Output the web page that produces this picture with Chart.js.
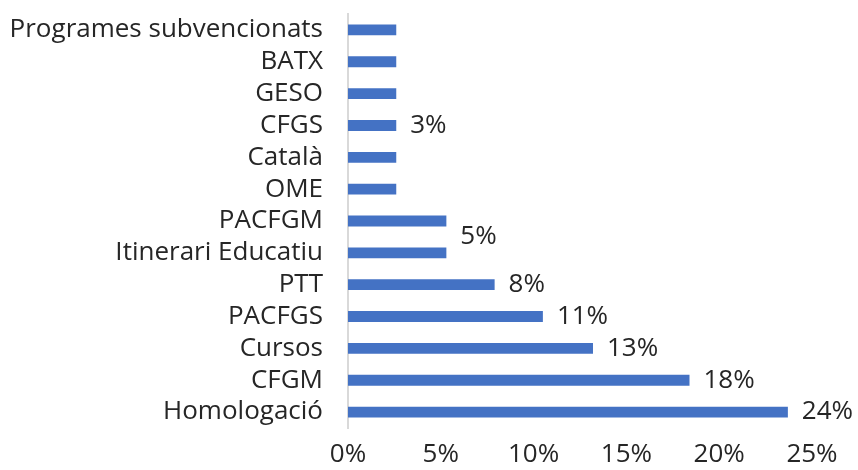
<!DOCTYPE html>
<html>
<head>
<meta charset="utf-8">
<script src="https://cdn.jsdelivr.net/npm/chart.js@4.4.0/dist/chart.umd.min.js"></script>
<style>
html,body{margin:0;padding:0;background:#fff;}
#wrap{width:858px;height:470px;position:relative;}
</style>
</head>
<body>
<div id="wrap"><canvas id="c" width="858" height="470"></canvas></div>
<script>
const categories = ['Programes subvencionats','BATX','GESO','CFGS','Català','OME','PACFGM','Itinerari Educatiu','PTT','PACFGS','Cursos','CFGM','Homologació'];
const values = [2.6, 2.6, 2.6, 2.6, 2.6, 2.6, 5.3, 5.3, 7.9, 10.5, 13.2, 18.4, 23.7];
const valueLabels = ['', '', '', '3%', '', '', '', '5%', '8%', '11%', '13%', '18%', '24%'];
const xTicks = [0, 5, 10, 15, 20, 25];

const FONT = "'Open Sans', sans-serif";
const FSIZE = 26;
const TEXT = '#262626';

const labelPlugin = {
  id: 'valueLabels',
  afterDatasetsDraw(chart, args, opts) {
    const ctx = chart.ctx;
    const meta = chart.getDatasetMeta(0);
    ctx.save();
    ctx.font = FSIZE + 'px ' + FONT;
    ctx.fillStyle = TEXT;
    ctx.textAlign = 'left';
    ctx.textBaseline = 'middle';
    meta.data.forEach((bar, i) => {
      const t = valueLabels[i];
      if (!t) return;
      const dy = (opts.shift && opts.shift[i]) || 0;
      ctx.fillText(t, bar.x + opts.gap, bar.y + dy);
    });
    ctx.restore();
  }
};

new Chart(document.getElementById('c'), {
  type: 'bar',
  data: {
    labels: categories,
    datasets: [{
      data: values,
      backgroundColor: '#4472C4',
      borderWidth: 0,
      barPercentage: 0.34,
      categoryPercentage: 1.0
    }]
  },
  options: {
    indexAxis: 'y',
    responsive: false,
    animation: false,
    events: [],
    layout: { padding: { top: 14, right: 46, left: 0, bottom: 0 } },
    plugins: {
      legend: { display: false },
      tooltip: { enabled: false },
      valueLabels: { gap: 14, shift: { 7: -16 } }
    },
    scales: {
      x: {
        min: 0, max: 25,
        afterBuildTicks(scale) { scale.ticks = xTicks.map(v => ({ value: v })); },
        afterFit(scale) { scale.height = 42; scale.paddingLeft = 0; scale.paddingRight = 0; },
        grid: { display: false, drawTicks: false },
        border: { display: false },
        ticks: {
          padding: 11,
          color: TEXT,
          font: { family: FONT, size: FSIZE },
          callback: v => v + '%',
          maxRotation: 0
        }
      },
      y: {
        afterFit(scale) { scale.width = 348; scale.paddingTop = 0; scale.paddingBottom = 0; },
        grid: { display: false, drawTicks: false },
        border: { display: true, color: '#d9d9d9', width: 2 },
        ticks: {
          padding: 25,
          color: TEXT,
          font: { family: FONT, size: FSIZE },
          autoSkip: false
        }
      }
    }
  },
  plugins: [labelPlugin]
});
</script>
</body>
</html>
